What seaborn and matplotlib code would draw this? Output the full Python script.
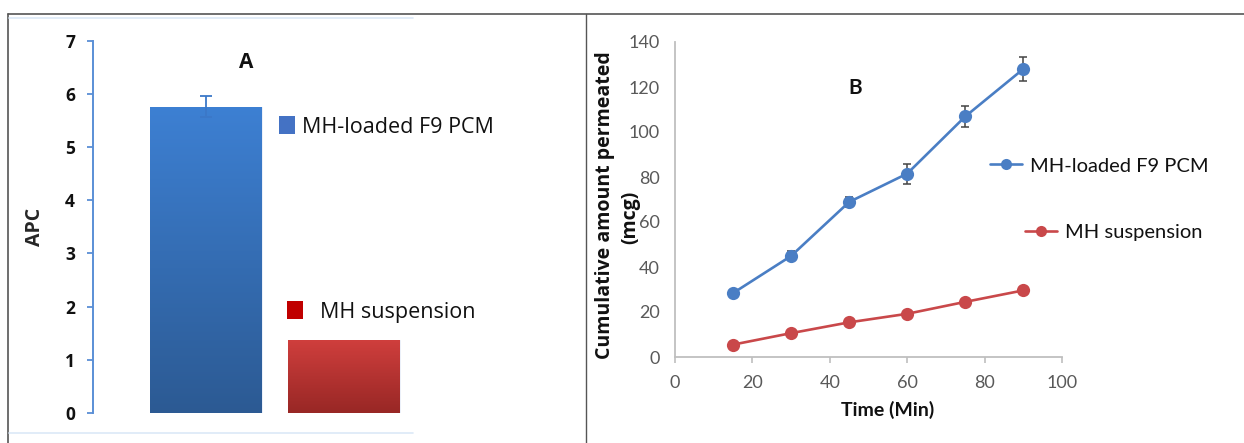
import numpy as np
import pandas as pd
import matplotlib
matplotlib.use("Agg")
import matplotlib.pyplot as plt
import seaborn as sns
from matplotlib.colors import LinearSegmentedColormap
from matplotlib.lines import Line2D
from matplotlib.patches import Patch

# ---------------- data ----------------
formulations = ["MH-loaded F9 PCM", "MH suspension"]
apc_values = [5.76, 1.38]
apc_errors = [0.20, 0.0]

time_min = [15, 30, 45, 60, 75, 90]
pcm_amount = [28.4, 44.9, 68.9, 81.5, 106.9, 128.0]
pcm_err = [1.5, 2.0, 2.2, 4.5, 4.6, 5.2]
susp_amount = [5.5, 10.6, 15.4, 19.2, 24.5, 29.6]
susp_err = [1.0, 1.0, 1.0, 1.0, 1.0, 1.2]

# ---------------- styling ----------------
sns.set_theme(style="white")
plt.rcParams["font.family"] = ["Open Sans", "DejaVu Sans"]

W, H = 1244, 443
fig = plt.figure(figsize=(W / 100, H / 100), dpi=100)
fig.patch.set_facecolor("white")

def fx(px):
    return px / W

def fy(py):
    return 1 - py / H

# frame decorations
fig.add_artist(Line2D([fx(8), 1], [fy(14), fy(14)], color="#555555", lw=1.2))
fig.add_artist(Line2D([fx(8), fx(8)], [fy(14), 0], color="#555555", lw=1.2))
fig.add_artist(Line2D([fx(586), fx(586)], [fy(14), 0], color="#555555", lw=1.0))
fig.add_artist(Line2D([fx(9), fx(413)], [fy(18), fy(18)], color="#dce9f7", lw=1.2))
fig.add_artist(Line2D([fx(9), fx(413)], [fy(433), fy(433)], color="#dce9f7", lw=1.2))

# ---------------- panel A ----------------
axA = fig.add_axes([fx(93), fy(413), fx(413) - fx(93), fy(40.7) - fy(413)])
axA.set_facecolor("none")
dfA = pd.DataFrame({"formulation": formulations, "APC": apc_values})
sns.barplot(data=dfA, x="formulation", y="APC", hue="formulation",
            palette=["#3a77c4", "#bb3533"], width=0.81, errorbar=None,
            legend=False, ax=axA)

grads = [
    LinearSegmentedColormap.from_list("bl", ["#2c5a93", "#3d80d3"]),
    LinearSegmentedColormap.from_list("rd", ["#982725", "#d03f3d"]),
]
bars = [p for p in axA.patches]
for p, cmap in zip(bars, grads):
    x0, w, h = p.get_x(), p.get_width(), p.get_height()
    grad = np.linspace(0, 1, 256).reshape(-1, 1)
    im = axA.imshow(grad, extent=[x0, x0 + w, 0, h], origin="lower",
                    aspect="auto", cmap=cmap, zorder=p.get_zorder())
    im.set_clip_path(p)
    p.set_facecolor("none")
    p.set_edgecolor("#e8eef8")
    p.set_linewidth(0.6)

axA.errorbar([0], [apc_values[0]], yerr=[apc_errors[0]], fmt="none",
             ecolor="#3b78c8", elinewidth=1.3, capsize=4, capthick=1.3, zorder=5)

axA.set_xlim(-0.819, 1.5)
axA.set_ylim(0, 7)
axA.set_yticks(range(0, 8))
axA.set_xticks([])
axA.set_xlabel("")
axA.set_ylabel("APC", fontsize=14, fontweight="bold", labelpad=14)
for s in ["top", "right", "bottom"]:
    axA.spines[s].set_visible(False)
axA.spines["left"].set_color("#5a8fd6")
axA.spines["left"].set_linewidth(1.4)
axA.tick_params(axis="y", direction="out", length=4, width=1.3, color="#5a8fd6",
                pad=9, labelsize=12.5, left=True)
for t in axA.get_yticklabels():
    t.set_fontweight("bold")
    t.set_color("#111111")
fig.text(fx(246), fy(62), "A", ha="center", va="center", fontsize=15,
         fontweight="bold", color="#111111")

fsA = 15.5
legA1 = axA.legend(handles=[Patch(facecolor="#4472c4", edgecolor="none")],
                   labels=[formulations[0]], loc="center left",
                   bbox_to_anchor=(fx(279), fy(127)), bbox_transform=fig.transFigure,
                   frameon=False, fontsize=fsA, handlelength=0.74, handleheight=0.88,
                   handletextpad=0.33, borderpad=0, borderaxespad=0)
axA.add_artist(legA1)
legA2 = axA.legend(handles=[Patch(facecolor="#c00000", edgecolor="none")],
                   labels=[formulations[1]], loc="center left",
                   bbox_to_anchor=(fx(287), fy(312)), bbox_transform=fig.transFigure,
                   frameon=False, fontsize=fsA, handlelength=0.74, handleheight=0.88,
                   handletextpad=0.79, borderpad=0, borderaxespad=0)
for t in list(legA1.get_texts()) + list(legA2.get_texts()):
    t.set_color("#111111")

# ---------------- panel B ----------------
axB = fig.add_axes([fx(675), fy(357), fx(1062) - fx(675), fy(42) - fy(357)])
axB.set_facecolor("none")
dfB = pd.DataFrame({
    "Time": time_min * 2,
    "Amount": pcm_amount + susp_amount,
    "Series": [formulations[0]] * len(time_min) + [formulations[1]] * len(time_min),
})
blue, red = "#4a7ec4", "#c9484a"
sns.lineplot(data=dfB, x="Time", y="Amount", hue="Series", palette=[blue, red],
             marker="o", markersize=9.5, markeredgewidth=0, linewidth=1.9,
             legend=False, ax=axB, zorder=3)
axB.errorbar(time_min, pcm_amount, yerr=pcm_err, fmt="none", ecolor="#444444",
             elinewidth=1.1, capsize=3, capthick=1.1, zorder=2)
axB.errorbar(time_min, susp_amount, yerr=susp_err, fmt="none", ecolor="#444444",
             elinewidth=1.1, capsize=3, capthick=1.1, zorder=2)

axB.set_xlim(0, 100)
axB.set_ylim(0, 140)
axB.set_xticks(range(0, 101, 20))
axB.set_yticks(range(0, 141, 20))
for s in ["top", "right"]:
    axB.spines[s].set_visible(False)
for s in ["left", "bottom"]:
    axB.spines[s].set_color("#bfbfbf")
    axB.spines[s].set_linewidth(1.3)
axB.tick_params(axis="x", direction="out", length=4, width=1.2, color="#bfbfbf",
                pad=9, labelsize=13, labelcolor="#595959", bottom=True)
axB.tick_params(axis="y", length=0, pad=11, labelsize=13, labelcolor="#595959")
for t in axB.get_xticklabels() + axB.get_yticklabels():
    t.set_family(["Lato", "DejaVu Sans"])
axB.set_xlabel("Time (Min)", fontsize=14, fontweight="bold", family=["Lato", "DejaVu Sans"],
               color="#111111")
axB.xaxis.set_label_coords(0.55, -0.14)
axB.set_ylabel("")
fig.text(fx(605), fy(205), "Cumulative amount permeated", rotation=90,
         ha="center", va="center", fontsize=14, fontweight="bold", color="#111111")
fig.text(fx(630), fy(217), "(mcg)", rotation=90,
         ha="center", va="center", fontsize=14, fontweight="bold", color="#111111")
fig.text(fx(855), fy(88), "B", ha="center", va="center", fontsize=15,
         fontweight="bold", family=["Lato", "DejaVu Sans"], color="#111111")

legB1 = axB.legend(handles=[Line2D([], [], color=blue, marker="o", markersize=8,
                                   lw=1.9, markeredgewidth=0)],
                   labels=[formulations[0]], loc="center left",
                   bbox_to_anchor=(fx(990), fy(166)), bbox_transform=fig.transFigure,
                   frameon=False, handlelength=1.6,
                   handletextpad=0.4, borderpad=0, borderaxespad=0,
                   prop={"family": ["Lato", "DejaVu Sans"], "size": 14.5})
axB.add_artist(legB1)
legB2 = axB.legend(handles=[Line2D([], [], color=red, marker="o", markersize=8,
                                   lw=1.9, markeredgewidth=0)],
                   labels=[formulations[1]], loc="center left",
                   bbox_to_anchor=(fx(1025), fy(232)), bbox_transform=fig.transFigure,
                   frameon=False, handlelength=1.6,
                   handletextpad=0.4, borderpad=0, borderaxespad=0,
                   prop={"family": ["Lato", "DejaVu Sans"], "size": 14.5})
for t in list(legB1.get_texts()) + list(legB2.get_texts()):
    t.set_color("#111111")

fig.savefig("out.png", dpi=100, facecolor="white")
